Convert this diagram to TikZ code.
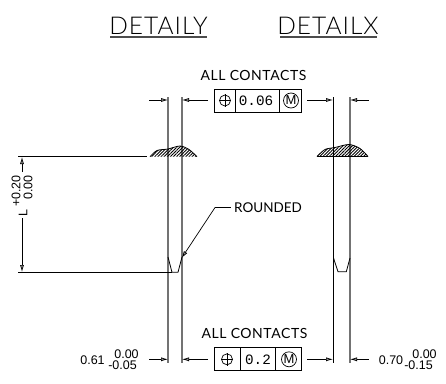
\documentclass[tikz,border=0pt]{standalone}
\usepackage{fontspec}
\setmainfont{Liberation Sans}
\newfontfamily\cadfont{Liberation Mono}
\newfontfamily\titlefont[LetterSpace=4]{Lato Light}
\newfontfamily\labelfont[LetterSpace=4]{Lato}
\newfontfamily\leaderfont{Lato}
\usetikzlibrary{arrows.meta,patterns.meta}
\tikzset{
	pinline/.style={line width=1.5pt, draw=black!55},
	thinline/.style={line width=0.8pt},
	dimtip/.style={-{Latex[length=7pt,width=4pt,open,fill=black!40]}, line width=0.7pt},
	hatch/.style={pattern={Lines[angle=45,distance=2.2pt,line width=0.9pt]}},
	bigtext/.style={font=\titlefont\fontsize{24.5}{24.5}\selectfont, inner sep=0pt},
	cadtext/.style={font=\labelfont\fontsize{14}{14}\selectfont, inner sep=0pt},
	leadertext/.style={font=\leaderfont\fontsize{13.5}{13.5}\selectfont, inner sep=0pt},
	tolbox/.style={font=\cadfont\fontsize{14.3}{14.3}\selectfont, inner sep=0pt},
	numtext/.style={font=\fontsize{12.5}{12.5}\selectfont, inner sep=0pt},
	symcircle/.style={draw, circle, line width=0.7pt, minimum size=#1, inner sep=0pt}
}
\begin{document}
\begin{tikzpicture}[x=1pt, y=-1pt]
		
		\useasboundingbox (0, 0) rectangle (446, 383);
		
		% titles
		\node [bigtext] (detaily) at (158.5, 26) {DETAILY};
		\node [bigtext] (detailx) at (328, 26) {DETAILX};
		\draw [line width=1.3pt, draw=black!70] (110, 37) -- (207, 37);
		\draw [line width=1.3pt, draw=black!70] (280, 37) -- (377, 37);
		
		\node [cadtext] (alltop) at (253.5, 75) {ALL CONTACTS};
		\node [cadtext] (allbot) at (254.5, 333) {ALL CONTACTS};
		\node [leadertext] (rounded) at (268, 207.5) {ROUNDED};
		
		% left pin
		\draw [pinline] (168, 97) -- (168, 363);
		\draw [pinline] (182, 97) -- (182, 363);
		\draw [thinline] (168, 257) -- (172, 272.3) -- (178, 272.3) -- (182, 257);
		\fill [hatch] plot [smooth] coordinates {(150, 156.7) (157, 150.5) (168, 149) (180, 146) (189, 149.5) (197, 156.7)} -- cycle;
		\draw [thinline] plot [smooth] coordinates {(150, 156.7) (157, 150.5) (168, 149) (180, 146) (189, 149.5) (197, 156.7)};
		
		% right pin
		\draw [line width=0.9pt] (333.5, 97) -- (333.5, 363);
		\draw [pinline] (350, 97) -- (350, 363);
		\draw [thinline] (333.5, 258) -- (338, 271.7) -- (346.3, 271.7) -- (350, 258);
		\fill [hatch] plot [smooth] coordinates {(317, 156.5) (325, 149.5) (335, 147.5) (349, 144.5) (360, 148.5) (368, 156.5)} -- cycle;
		\draw [thinline] plot [smooth] coordinates {(317, 156.5) (325, 149.5) (335, 147.5) (349, 144.5) (360, 148.5) (368, 156.5)};
		\draw [thinline] (317, 156.5) -- (368, 156.5);
		
		% length dimension
		\draw [thinline] (18, 156.7) -- (147, 156.7);
		\draw [thinline] (18, 272.3) -- (172, 272.3);
		\draw [dimtip] (22, 172) -- (22, 157);
		\draw [dimtip] (22, 218) -- (22, 272);
		\node [numtext, rotate=90] (ldim) at (23, 213.5) {L};
		\node [numtext, rotate=90, anchor=east] (lplus) at (16, 175) {+0.20};
		\node [numtext, rotate=90, anchor=east] (lzero) at (28, 175) {0.00};
		
		% leader
		\draw [dimtip] (rounded.west) ++(-3, 0) -- (215, 207.5) -- (181.7, 258);
		
		% upper frame
		\draw [line width=0.8pt] (214.5, 89) rectangle (301.7, 112);
		\draw [line width=0.8pt] (235.7, 89) -- (235.7, 112);
		\draw [line width=0.8pt] (279.7, 89) -- (279.7, 112);
		\node [symcircle=11pt] (phitop) at (225, 100.5) {};
		\draw [line width=0.7pt] (219, 100.5) -- (231, 100.5);
		\draw [line width=0.7pt] (225, 94) -- (225, 107);
		\node [tolbox] (tolmax) at (256, 100.5) {0.06};
		\node [symcircle=15pt, font=\fontsize{13}{13}\selectfont] (mtop) at (291, 100.5) {M};
		
		\draw [dimtip] (149, 100) -- (168, 100);
		\draw [dimtip] (208, 100) -- (182, 100);
		\draw [dimtip] (307, 100) -- (333, 100);
		\draw [dimtip] (368.7, 100) -- (350, 100);
		
		% lower frame
		\draw [line width=0.8pt] (214.5, 347.7) rectangle (301.7, 370.7);
		\draw [line width=0.8pt] (240.3, 347.7) -- (240.3, 370.7);
		\draw [line width=0.8pt] (275.7, 347.7) -- (275.7, 370.7);
		\node [symcircle=11pt] (phibot) at (227, 359.3) {};
		\draw [line width=0.7pt] (221, 359.3) -- (233, 359.3);
		\draw [line width=0.7pt] (227, 353) -- (227, 366);
		\node [tolbox] (tolmin) at (258, 359.3) {0.2};
		\node [symcircle=15pt, font=\fontsize{13}{13}\selectfont] (mbot) at (289, 359.3) {M};
		
		\draw [dimtip] (149, 359.3) -- (168, 359.3);
		\draw [dimtip] (208, 359.3) -- (182, 359.3);
		\draw [dimtip] (307, 359.3) -- (333, 359.3);
		\draw [dimtip] (368.7, 359.3) -- (350, 359.3);
		
		% width values
		\node [numtext] (widthy) at (92.5, 360) {0.61};
		\node [numtext] (yupper) at (126.5, 354) {0.00};
		\node [numtext] (ylower) at (122.5, 365.5) {-0.05};
		\node [numtext] (widthx) at (391, 360) {0.70};
		\node [numtext] (xupper) at (424.5, 354) {0.00};
		\node [numtext] (xlower) at (418.5, 365.5) {-0.15};
		
		\end{tikzpicture}
\end{document}
